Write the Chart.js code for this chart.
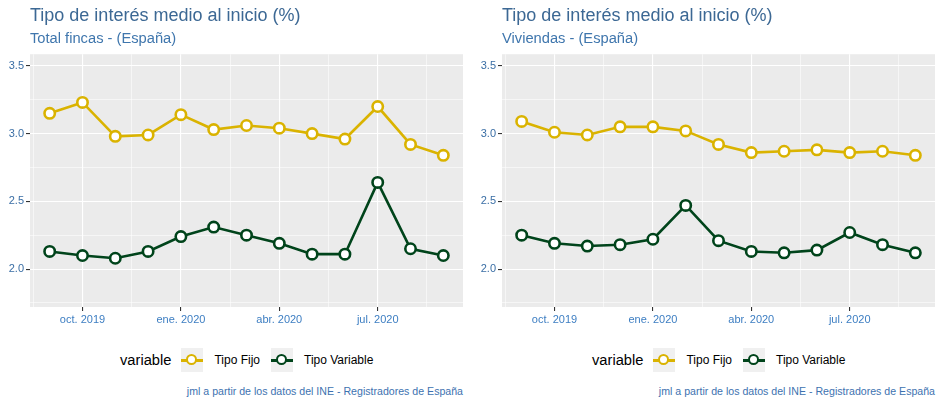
<!DOCTYPE html>
<html>
<head>
<meta charset="utf-8">
<script src="https://cdn.jsdelivr.net/npm/chart.js@4"></script>
<style>
  body { margin: 0; background: #fff; font-family: "Liberation Sans", Arial, sans-serif; }
  .panel { position: absolute; top: 0; width: 472px; height: 404px; }
  .panel canvas { position: absolute; left: 0; top: 0; }
  .legend { position: absolute; top: 348px; left: 120px; height: 24px; display: flex; align-items: center; white-space: nowrap; }
  .legend .ttl { font-size: 14.7px; color: #000; margin-right: 10px; }
  .legend .key { position: relative; width: 22px; height: 24px; background: #f0f0f0; margin-right: 11px; }
  .legend .key .ln { position: absolute; left: 0; right: 0; top: 10.5px; height: 3px; }
  .legend .key .pt { position: absolute; left: 4.5px; top: 5.5px; width: 7.5px; height: 7.5px; border-radius: 50%; background: #fff; border: 2.75px solid; }
  .legend .lab { font-size: 12px; color: #000; margin-right: 11px; }
  .caption { position: absolute; top: 385px; right: 9px; font-size: 10.6px; color: #3d72b0; white-space: nowrap; }
</style>
</head>
<body>
<div class="panel" id="p1" style="left:0"><canvas id="c1" width="472" height="330"></canvas></div>
<div class="panel" id="p2" style="left:472px"><canvas id="c2" width="472" height="330"></canvas></div>
<script>
// meses de sep. 2019 a sep. 2020
const months = ["2019-09","2019-10","2019-11","2019-12","2020-01","2020-02","2020-03","2020-04","2020-05","2020-06","2020-07","2020-08","2020-09"];
const fijoTotal = [3.15,3.23,2.98,2.99,3.14,3.03,3.06,3.04,3.00,2.96,3.20,2.92,2.84];
const variableTotal = [2.13,2.10,2.08,2.13,2.24,2.31,2.25,2.19,2.11,2.11,2.64,2.15,2.10];
const fijoViviendas = [3.09,3.01,2.99,3.05,3.05,3.02,2.92,2.86,2.87,2.88,2.86,2.87,2.84];
const variableViviendas = [2.25,2.19,2.17,2.18,2.22,2.47,2.21,2.13,2.12,2.14,2.27,2.18,2.12];
const xTickMonths = ["2019-10","2020-01","2020-04","2020-07"];
const xTickLabels = ["oct. 2019","ene. 2020","abr. 2020","jul. 2020"];
const yTickValues = [2.0,2.5,3.0,3.5];
const seriesNames = ["Tipo Fijo","Tipo Variable"];
const seriesColors = ["#dab300","#00441b"];

const titleText = "Tipo de interés medio al inicio (%)";
const captionText = "jml a partir de los datos del INE - Registradores de España";
const font = "'Liberation Sans', Arial, sans-serif";

const panelBg = {
  id: "panelBg",
  beforeDraw(chart) {
    const a = chart.chartArea, ctx = chart.ctx;
    ctx.save();
    ctx.fillStyle = "#ebebeb";
    ctx.fillRect(a.left, a.top, a.right - a.left, a.bottom - a.top);
    ctx.restore();
  }
};

function toPoints(values) {
  return values.map((v, i) => ({ x: i, y: v }));
}

function makeChart(canvasId, panelId, subtitle, fijo, variable) {
  const datasets = [fijo, variable].map((vals, k) => ({
    label: seriesNames[k],
    data: toPoints(vals),
    borderColor: seriesColors[k],
    backgroundColor: "#ffffff",
    borderWidth: 2.6,
    pointRadius: 5.2,
    pointBorderWidth: 2.6,
    pointBackgroundColor: "#ffffff",
    pointBorderColor: seriesColors[k],
    tension: 0
  }));
  const xMajor = xTickMonths.map(m => months.indexOf(m));
  const xAll = [-0.5];
  xMajor.forEach(p => { xAll.push(p, p + 1.5); });
  const yAll = [];
  yTickValues.forEach(v => { yAll.push(v - 0.25, v); });
  yAll.push(3.75);

  const chart = new Chart(document.getElementById(canvasId), {
    type: "line",
    data: { datasets: datasets },
    plugins: [panelBg],
    options: {
      responsive: false,
      animation: false,
      devicePixelRatio: 1,
      layout: { padding: { left: 0, right: 9, top: 0, bottom: 0 } },
      plugins: {
        legend: { display: false },
        tooltip: { enabled: false },
        title: {
          display: true, text: titleText, align: "start", fullSize: false,
          color: "#3c6894", font: { family: font, size: 18, weight: "normal" },
          padding: { top: 5, bottom: 0 }
        },
        subtitle: {
          display: true, text: subtitle, align: "start", fullSize: false,
          color: "#3f76ad", font: { family: font, size: 14.7, weight: "normal" },
          padding: { top: 4, bottom: 6 }
        }
      },
      scales: {
        x: {
          type: "linear", min: -0.6, max: 12.6,
          afterBuildTicks: s => { s.ticks = xAll.map(v => ({ value: v })); },
          afterFit: s => { s.height = 23; },
          border: { display: false },
          grid: {
            color: "#ffffff",
            lineWidth: c => xMajor.includes(c.tick.value) ? 1.1 : 0.55,
            tickColor: c => xMajor.includes(c.tick.value) ? "#333333" : "rgba(0,0,0,0)",
            tickLength: 4, tickWidth: 1.1
          },
          ticks: {
            autoSkip: false, maxRotation: 0, padding: 2,
            color: "#3d7ec2", font: { family: font, size: 11 },
            callback: v => { const i = xMajor.indexOf(v); return i >= 0 ? xTickLabels[i] : ""; }
          }
        },
        y: {
          min: 1.72, max: 3.586,
          afterBuildTicks: s => { s.ticks = yAll.filter(v => v > 1.72 && v < 3.586).map(v => ({ value: v })); },
          afterFit: s => { s.width = 30; },
          border: { display: false },
          grid: {
            color: "#ffffff",
            lineWidth: c => yTickValues.includes(c.tick.value) ? 1.1 : 0.55,
            tickColor: c => yTickValues.includes(c.tick.value) ? "#333333" : "rgba(0,0,0,0)",
            tickLength: 4, tickWidth: 1.1
          },
          ticks: {
            padding: 2, color: "#3a6ea5", font: { family: font, size: 11 },
            callback: v => yTickValues.includes(v) ? v.toFixed(1) : ""
          }
        }
      }
    }
  });

  // leyenda y pie de página en HTML
  const panel = document.getElementById(panelId);
  const leg = document.createElement("div");
  leg.className = "legend";
  let html = '<span class="ttl">variable</span>';
  chart.data.datasets.forEach(ds => {
    html += '<span class="key"><span class="ln" style="background:' + ds.borderColor + '"></span>' +
            '<span class="pt" style="border-color:' + ds.borderColor + '"></span></span>' +
            '<span class="lab">' + ds.label + '</span>';
  });
  leg.innerHTML = html;
  panel.appendChild(leg);
  const cap = document.createElement("div");
  cap.className = "caption";
  cap.textContent = captionText;
  panel.appendChild(cap);
  return chart;
}

makeChart("c1", "p1", "Total fincas - (España)", fijoTotal, variableTotal);
makeChart("c2", "p2", "Viviendas - (España)", fijoViviendas, variableViviendas);
</script>
</body>
</html>
